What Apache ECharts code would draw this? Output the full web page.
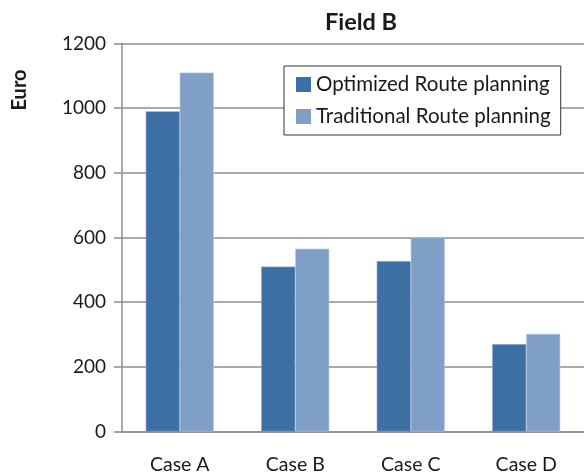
<!DOCTYPE html>
<html>
<head>
<meta charset="utf-8">
<script src="https://cdn.jsdelivr.net/npm/echarts@6/dist/echarts.min.js"></script>
<style>
  html, body { margin: 0; padding: 0; background: #fff; }
  #chart { width: 584px; height: 475px; }
</style>
</head>
<body>
<div id="chart"></div>
<script>
// Cost per case, in Euro
const categories = ['Case A', 'Case B', 'Case C', 'Case D'];
const optimizedRoute = [990, 510, 527, 270];
const traditionalRoute = [1110, 565, 600, 302];
const seriesNames = ['Optimized Route planning', 'Traditional Route planning'];
const yTicks = { min: 0, max: 1200, step: 200 };

const FONT = 'Lato';
const GRID_GREY = '#8e8e8e';
const TEXT = '#1a1a1a';

const chart = echarts.init(document.getElementById('chart'), null, { renderer: 'canvas' });

chart.setOption({
  animation: false,
  backgroundColor: '#ffffff',
  title: {
    text: 'Field B',
    left: 356,
    textAlign: 'center',
    top: 5,
    textStyle: { fontFamily: FONT, fontWeight: 'bold', fontSize: 23.5, color: TEXT }
  },
  graphic: [{
    type: 'text',
    x: 20,
    y: 90,
    rotation: Math.PI / 2,
    style: {
      text: 'Euro',
      fontFamily: FONT,
      fontWeight: 'bold',
      fontSize: 20,
      fill: TEXT,
      textAlign: 'center',
      textVerticalAlign: 'middle'
    }
  }],
  legend: {
    orient: 'vertical',
    left: 284,
    top: 66,
    data: seriesNames,
    itemWidth: 15,
    itemHeight: 15,
    itemGap: 9,
    padding: [7, 10, 7, 12],
    borderColor: '#333333',
    borderWidth: 1,
    backgroundColor: '#ffffff',
    icon: 'rect',
    itemStyle: { borderWidth: 0 },
    textStyle: { fontFamily: FONT, fontSize: 20.5, color: TEXT, lineHeight: 23 }
  },
  grid: { left: 122, right: -6, top: 43.5, bottom: 43.5, containLabel: false },
  xAxis: {
    type: 'category',
    data: categories,
    axisLine: { show: true, lineStyle: { color: GRID_GREY, width: 1.5 } },
    axisTick: { show: false },
    axisLabel: { fontFamily: FONT, fontSize: 19.5, color: TEXT, margin: 23 }
  },
  yAxis: {
    type: 'value',
    min: yTicks.min,
    max: yTicks.max,
    interval: yTicks.step,
    axisLine: { show: true, lineStyle: { color: GRID_GREY, width: 1.5 } },
    axisTick: { show: true, length: 8, lineStyle: { color: GRID_GREY, width: 1.5 } },
    axisLabel: {
      fontFamily: FONT, fontSize: 19, color: TEXT, margin: 16,
      formatter: (v) => String(v)
    },
    splitLine: { show: true, lineStyle: { color: GRID_GREY, width: 1.5 } }
  },
  series: [
    {
      name: seriesNames[0],
      type: 'bar',
      data: optimizedRoute,
      barWidth: 34,
      barGap: '0%',
      itemStyle: { color: '#3d6fa5', borderColor: '#7d9cc4', borderWidth: 0.6 }
    },
    {
      name: seriesNames[1],
      type: 'bar',
      data: traditionalRoute,
      barWidth: 34,
      barGap: '0%',
      itemStyle: { color: '#809fc8', borderColor: '#b3c6e0', borderWidth: 0.6 }
    }
  ]
});
</script>
</body>
</html>
